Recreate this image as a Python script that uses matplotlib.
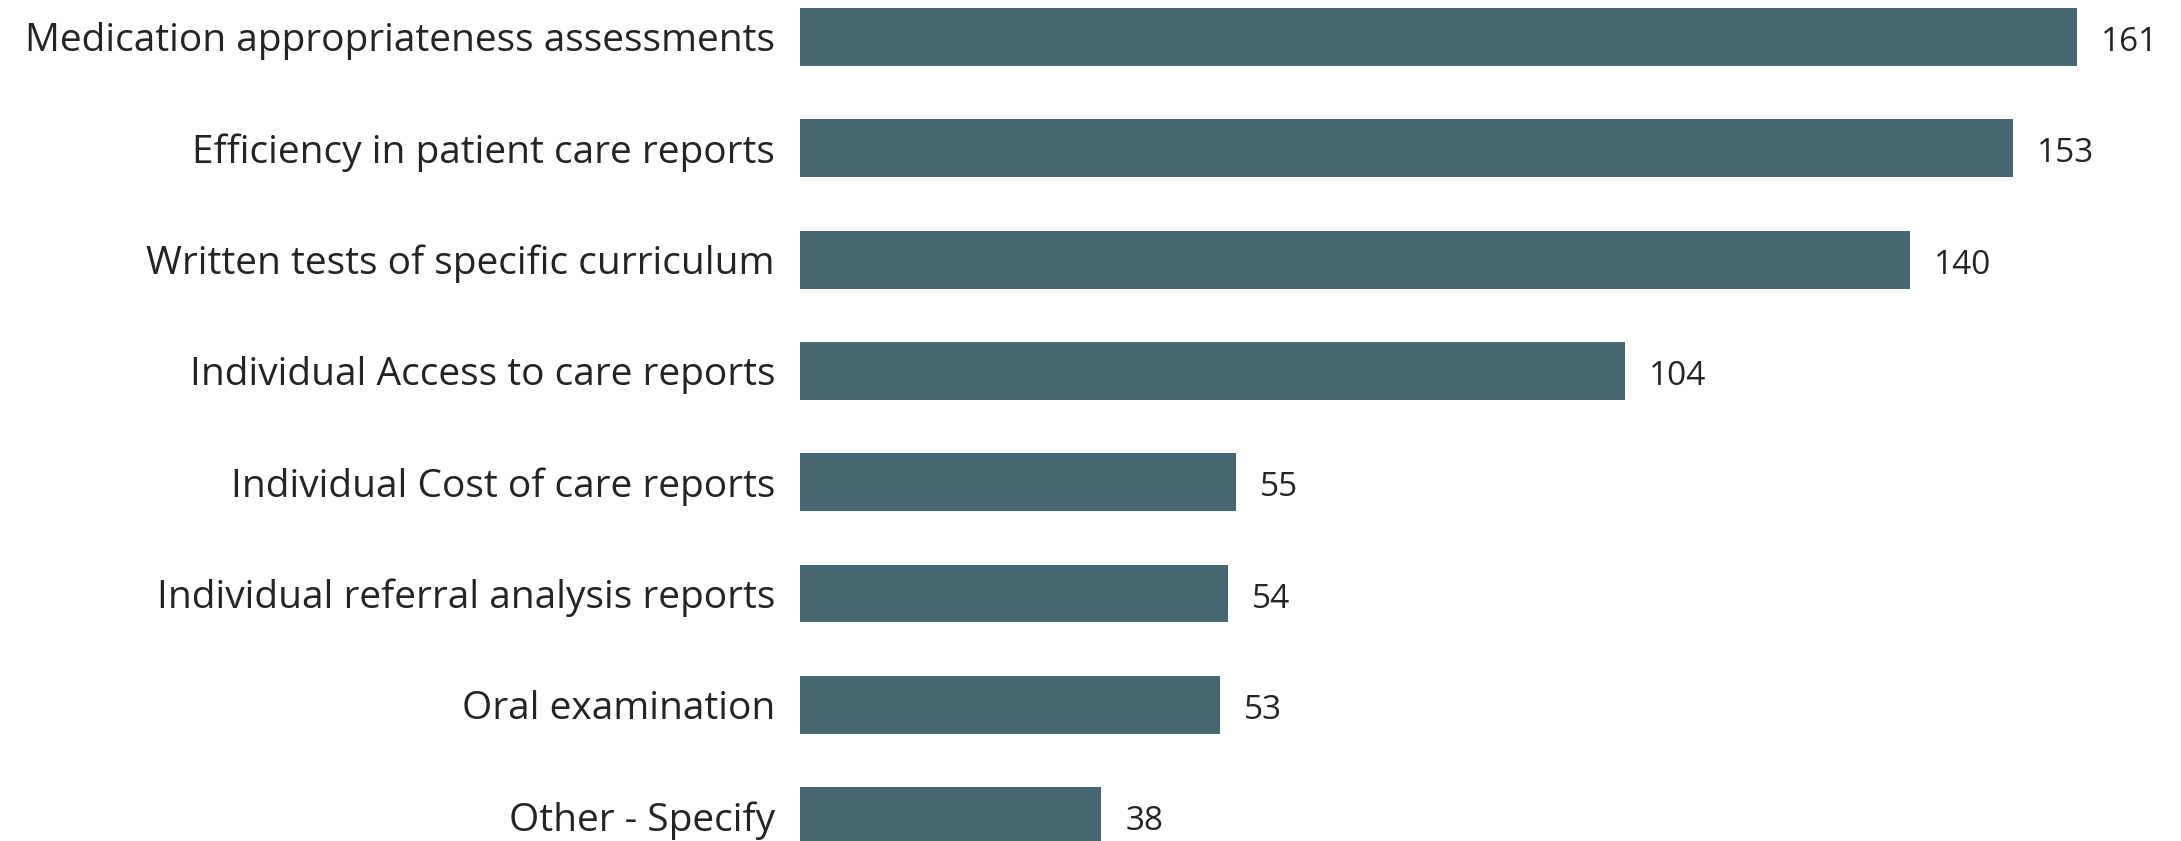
import matplotlib.pyplot as plt

# Assessment types and counts
categories = [
    'Medication appropriateness assessments',
    'Efficiency in patient care reports',
    'Written tests of specific curriculum',
    'Individual Access to care reports',
    'Individual Cost of care reports',
    'Individual referral analysis reports',
    'Oral examination',
    'Other - Specify',
]
counts = [161, 153, 140, 104, 55, 54, 53, 38]

bar_color = '#476872'
text_color = '#252423'

fig = plt.figure(figsize=(21.81, 8.41), dpi=100)
ax = fig.add_axes([800 / 2181, 0, 1 - 800 / 2181, 1])

ypos = list(range(len(categories)))
ax.barh(ypos, counts, height=0.52, color=bar_color)

ax.set_xlim(0, 1381 / 7.93)
ax.set_ylim((841 - 37) / 111.3, -37 / 111.3)

# category labels to the left of the bars
ax.set_yticks(ypos)
ax.set_yticklabels(categories, fontsize=28, color=text_color, family='Open Sans')
ax.tick_params(axis='y', length=0, pad=18)
ax.set_xticks([])

# value labels at the end of each bar
for y, v in zip(ypos, counts):
    ax.text(v + 3.0, y + 0.05, str(v), va='center', ha='left', fontsize=24,
            color=text_color, family='Open Sans')

for s in ax.spines.values():
    s.set_visible(False)

fig.savefig('out.png', dpi=100)
